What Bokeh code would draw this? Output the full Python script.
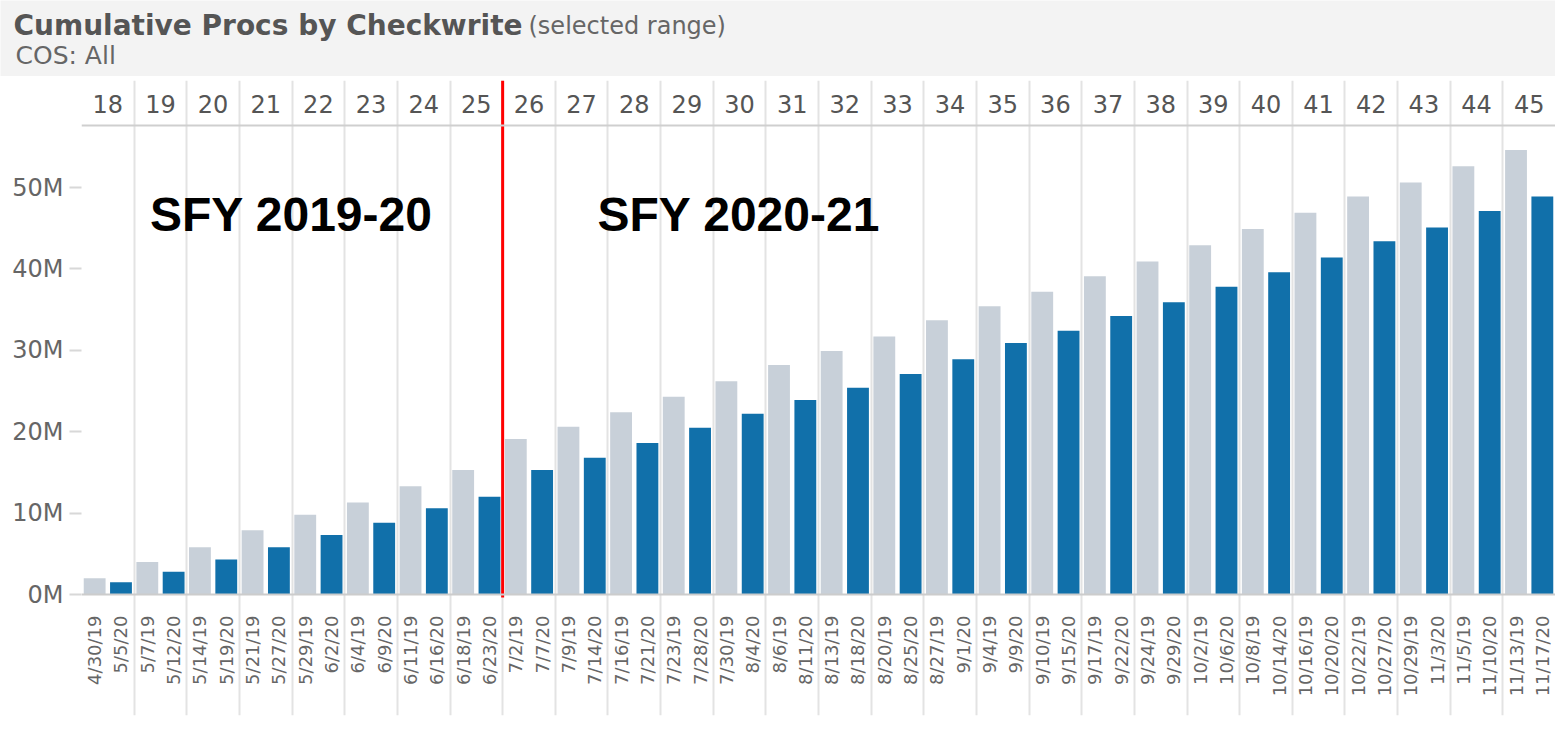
import math
from bokeh.plotting import figure
from bokeh.models import FixedTicker, Span, Label, Range1d, Grid
from bokeh.layouts import column
from bokeh.core.properties import value
from bokeh.embed import file_html
from bokeh.resources import INLINE

# ---------------- data ----------------
weeks = ["18", "19", "20", "21", "22", "23", "24", "25", "26", "27", "28", "29", "30", "31",
         "32", "33", "34", "35", "36", "37", "38", "39", "40", "41", "42", "43", "44", "45"]
dates_2019 = ["4/30/19", "5/7/19", "5/14/19", "5/21/19", "5/29/19", "6/4/19", "6/11/19", "6/18/19",
              "7/2/19", "7/9/19", "7/16/19", "7/23/19", "7/30/19", "8/6/19", "8/13/19", "8/20/19",
              "8/27/19", "9/4/19", "9/10/19", "9/17/19", "9/24/19", "10/2/19", "10/8/19", "10/16/19",
              "10/22/19", "10/29/19", "11/5/19", "11/13/19"]
dates_2020 = ["5/5/20", "5/12/20", "5/19/20", "5/27/20", "6/2/20", "6/9/20", "6/16/20", "6/23/20",
              "7/7/20", "7/14/20", "7/21/20", "7/28/20", "8/4/20", "8/11/20", "8/18/20", "8/25/20",
              "9/1/20", "9/9/20", "9/15/20", "9/22/20", "9/29/20", "10/6/20", "10/14/20", "10/20/20",
              "10/27/20", "11/3/20", "11/10/20", "11/17/20"]
# cumulative procs, millions
procs_2019 = [2.0, 4.0, 5.8, 7.9, 9.8, 11.3, 13.3, 15.3, 19.1, 20.6, 22.4, 24.3, 26.2, 28.2,
              29.9, 31.7, 33.7, 35.4, 37.2, 39.1, 40.9, 42.9, 44.9, 46.9, 48.9, 50.6, 52.6, 54.6]
procs_2020 = [1.5, 2.8, 4.3, 5.8, 7.3, 8.8, 10.6, 12.0, 15.3, 16.8, 18.6, 20.5, 22.2, 23.9,
              25.4, 27.1, 28.9, 30.9, 32.4, 34.2, 35.9, 37.8, 39.6, 41.4, 43.4, 45.1, 47.1, 48.9]
y_ticks = [0, 10, 20, 30, 40, 50]
y_tick_labels = ["0M", "10M", "20M", "30M", "40M", "50M"]
split_week = "26"
annotations = ["SFY 2019-20", "SFY 2020-21"]
title_main = "Cumulative Procs by Checkwrite"
title_note = "(selected range)"
subtitle = "COS: All"

# ---------------- geometry (4 x-units per week) ----------------
n = len(weeks)
x_2019 = [4 * i + 1 for i in range(n)]
x_2020 = [4 * i + 3 for i in range(n)]
x_week = [4 * i + 2 for i in range(n)]
boundaries = [4 * i for i in range(n)]

FONT = "DejaVu Sans"
W = 1555
LEFT = 81
GRAY_BG = "#f3f3f3"


def no_frame_align(fig):
    if "frame_align" in fig.properties():
        fig.frame_align = False


def bare(fig, color):
    no_frame_align(fig)
    fig.grid.visible = False
    fig.outline_line_color = None
    fig.background_fill_color = color
    fig.border_fill_color = color


# ---------------- header ----------------
HH = 76
h = figure(width=W, height=HH, x_range=Range1d(0, W), y_range=Range1d(HH, 0),
           x_axis_location=None, y_axis_location=None,
           output_backend="svg", toolbar_location=None,
           min_border_left=0, min_border_right=0, min_border_top=0, min_border_bottom=0)
bare(h, GRAY_BG)
h.add_layout(Label(x=13, y=25, text=title_main, text_font=FONT, text_font_style="bold",
                   text_font_size="28px", text_color="#555555", text_baseline="alphabetic"))
h.add_layout(Label(x=528, y=25, text=title_note, text_font=FONT,
                   text_font_size="24px", text_color="#666666", text_baseline="alphabetic"))
h.add_layout(Label(x=15, y=55, text=subtitle, text_font=FONT,
                   text_font_size="25px", text_color="#666666", text_baseline="alphabetic"))

# ---------------- main chart ----------------
PX_PER_M = 8.14
Y_TOP = (594 - 80) / PX_PER_M
Y_BOT = -(715 - 594) / PX_PER_M
p = figure(width=W, height=652, x_range=Range1d(0, 112.0), y_range=Range1d(Y_BOT, Y_TOP),
           x_axis_location=None,
           output_backend="svg", toolbar_location=None,
           min_border_left=LEFT, min_border_right=0, min_border_top=4, min_border_bottom=13)
no_frame_align(p)
p.outline_line_color = None
p.background_fill_color = "white"
p.border_fill_color = "white"
p.grid.visible = False
p.add_layout(Grid(dimension=0, ticker=FixedTicker(ticks=boundaries),
                  grid_line_color="#e3e3e3", grid_line_width=2))

p.vbar(x=x_2019, top=procs_2019, width=1.66, fill_color="#c8d0d9", line_color=None)
p.vbar(x=x_2020, top=procs_2020, width=1.66, fill_color="#1170aa", line_color=None)

# baseline and header-row separator
p.add_layout(Span(location=0, dimension="width", line_color="#cccccc", line_width=2))
p.add_layout(Span(location=(594 - 125) / PX_PER_M, dimension="width",
                  line_color="#cfcfcf", line_width=2))

# week numbers (top row)
p.text(x=x_week, y=[(594 - 103) / PX_PER_M] * n, text=weeks, text_align="center",
       text_baseline="middle", text_font=value(FONT), text_font_size="24px",
       text_color="#555555")

# check-write dates (bottom, rotated)
label_y = -(615 - 594) / PX_PER_M
p.text(x=x_2019 + x_2020, y=[label_y] * (2 * n), text=dates_2019 + dates_2020,
       angle=math.pi / 2, text_align="right", text_baseline="middle",
       text_font=value(FONT), text_font_size="18px", text_color="#666666")

# red divider between fiscal years
xr = boundaries[weeks.index(split_week)]
p.segment(x0=[xr], y0=[-3 / PX_PER_M], x1=[xr], y1=[Y_TOP], line_color="#ff0000", line_width=3)

# annotations
p.add_layout(Label(x=5.2, y=46.7, text=annotations[0], text_font="Liberation Sans",
                   text_font_style="bold", text_font_size="48px", text_color="black",
                   text_baseline="middle"))
p.add_layout(Label(x=39.2, y=46.7, text=annotations[1], text_font="Liberation Sans",
                   text_font_style="bold", text_font_size="48px", text_color="black",
                   text_baseline="middle"))

# y axis
ya = p.yaxis[0]
ya.ticker = FixedTicker(ticks=y_ticks)
ya.major_label_overrides = {t: l for t, l in zip(y_ticks, y_tick_labels)}
ya.axis_line_color = None
ya.major_tick_in = 0
ya.major_tick_out = 12
ya.minor_tick_out = 0
ya.minor_tick_in = 0
ya.major_tick_line_color = "#d8d8d8"
ya.major_tick_line_width = 2
ya.major_label_standoff = 6
ya.major_label_text_font = FONT
ya.major_label_text_font_size = "24px"
ya.major_label_text_color = "#666666"

# ---------------- bottom strip ----------------
s = figure(width=W, height=6, x_range=Range1d(0, 1), y_range=Range1d(0, 1),
           x_axis_location=None, y_axis_location=None,
           output_backend="svg", toolbar_location=None,
           min_border_left=0, min_border_right=0, min_border_top=0, min_border_bottom=0)
bare(s, GRAY_BG)

layout = column(h, p, s, spacing=0)
open("out.html", "w").write(file_html(layout, INLINE, "Cumulative Procs by Checkwrite"))
